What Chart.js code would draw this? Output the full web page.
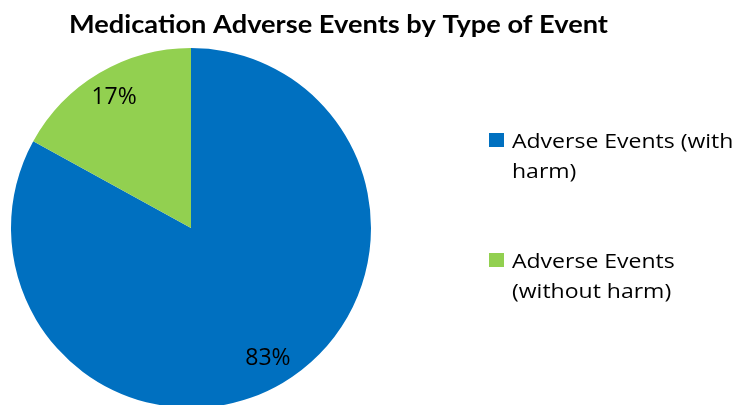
<!DOCTYPE html>
<html>
<head>
<meta charset="utf-8">
<script src="https://cdn.jsdelivr.net/npm/chart.js@4"></script>
<style>
  html, body { margin: 0; padding: 0; background: #fff; }
  #wrap { width: 739px; height: 405px; overflow: hidden; position: relative; }
  canvas { display: block; }
</style>
</head>
<body>
<div id="wrap"><canvas id="pie" width="739" height="410"></canvas></div>
<script>
// --- data ---
const categories = ['Adverse Events (with harm)', 'Adverse Events (without harm)'];
const legendLines = [['Adverse Events (with', 'harm)'], ['Adverse Events', '(without harm)']];
const values = [83, 17];
const colors = ['#0070C0', '#92D050'];
const chartTitle = 'Medication Adverse Events by Type of Event';

// draws title, slice percentages and the wrapped legend
const decorations = {
    id: 'decorations',
    afterDatasetsDraw(chart) {
        const ctx = chart.ctx;
        const total = values.reduce((a, b) => a + b, 0);

        // percent labels inside each slice
        ctx.save();
        ctx.font = '23px "Open Sans"';
        ctx.fillStyle = '#000';
        ctx.textAlign = 'center';
        ctx.textBaseline = 'middle';
        chart.getDatasetMeta(0).data.forEach((arc, i) => {
            const p = arc.getProps(['x', 'y', 'startAngle', 'endAngle', 'outerRadius'], true);
            const mid = (p.startAngle + p.endAngle) / 2;
            const r = p.outerRadius * 0.84;
            const pct = Math.round(values[i] / total * 100) + '%';
            ctx.fillText(pct, p.x + Math.cos(mid) * r, p.y + Math.sin(mid) * r);
        });
        ctx.restore();

        // title
        ctx.save();
        ctx.font = 'bold 24px Lato';
        ctx.fillStyle = '#000';
        ctx.textBaseline = 'alphabetic';
        const tw = ctx.measureText(chartTitle).width;
        const sx = 539 / tw;
        ctx.translate(69, 33);
        ctx.scale(sx, 1);
        ctx.fillText(chartTitle, 0, 0);
        ctx.restore();

        // legend
        const legendTop = [133, 253];
        ctx.save();
        ctx.font = '20px "Open Sans"';
        ctx.textBaseline = 'alphabetic';
        legendLines.forEach((lines, i) => {
            const y = legendTop[i];
            ctx.fillStyle = colors[i];
            ctx.fillRect(489, y, 15, 14);
            ctx.fillStyle = '#000';
            lines.forEach((line, j) => {
                ctx.save();
                ctx.translate(512, y + 15 + j * 30);
                ctx.scale(1.15, 1);
                ctx.fillText(line, 0, 0);
                ctx.restore();
            });
        });
        ctx.restore();
    }
};

new Chart(document.getElementById('pie'), {
    type: 'pie',
    data: {
        labels: categories,
        datasets: [{
            data: values,
            backgroundColor: colors,
            borderWidth: 0
        }]
    },
    options: {
        responsive: false,
        animation: false,
        layout: { padding: { left: 11, right: 368, top: 48, bottom: 2 } },
        plugins: {
            legend: { display: false },
            title: { display: false },
            tooltip: { enabled: false }
        }
    },
    plugins: [decorations]
});
</script>
</body>
</html>
